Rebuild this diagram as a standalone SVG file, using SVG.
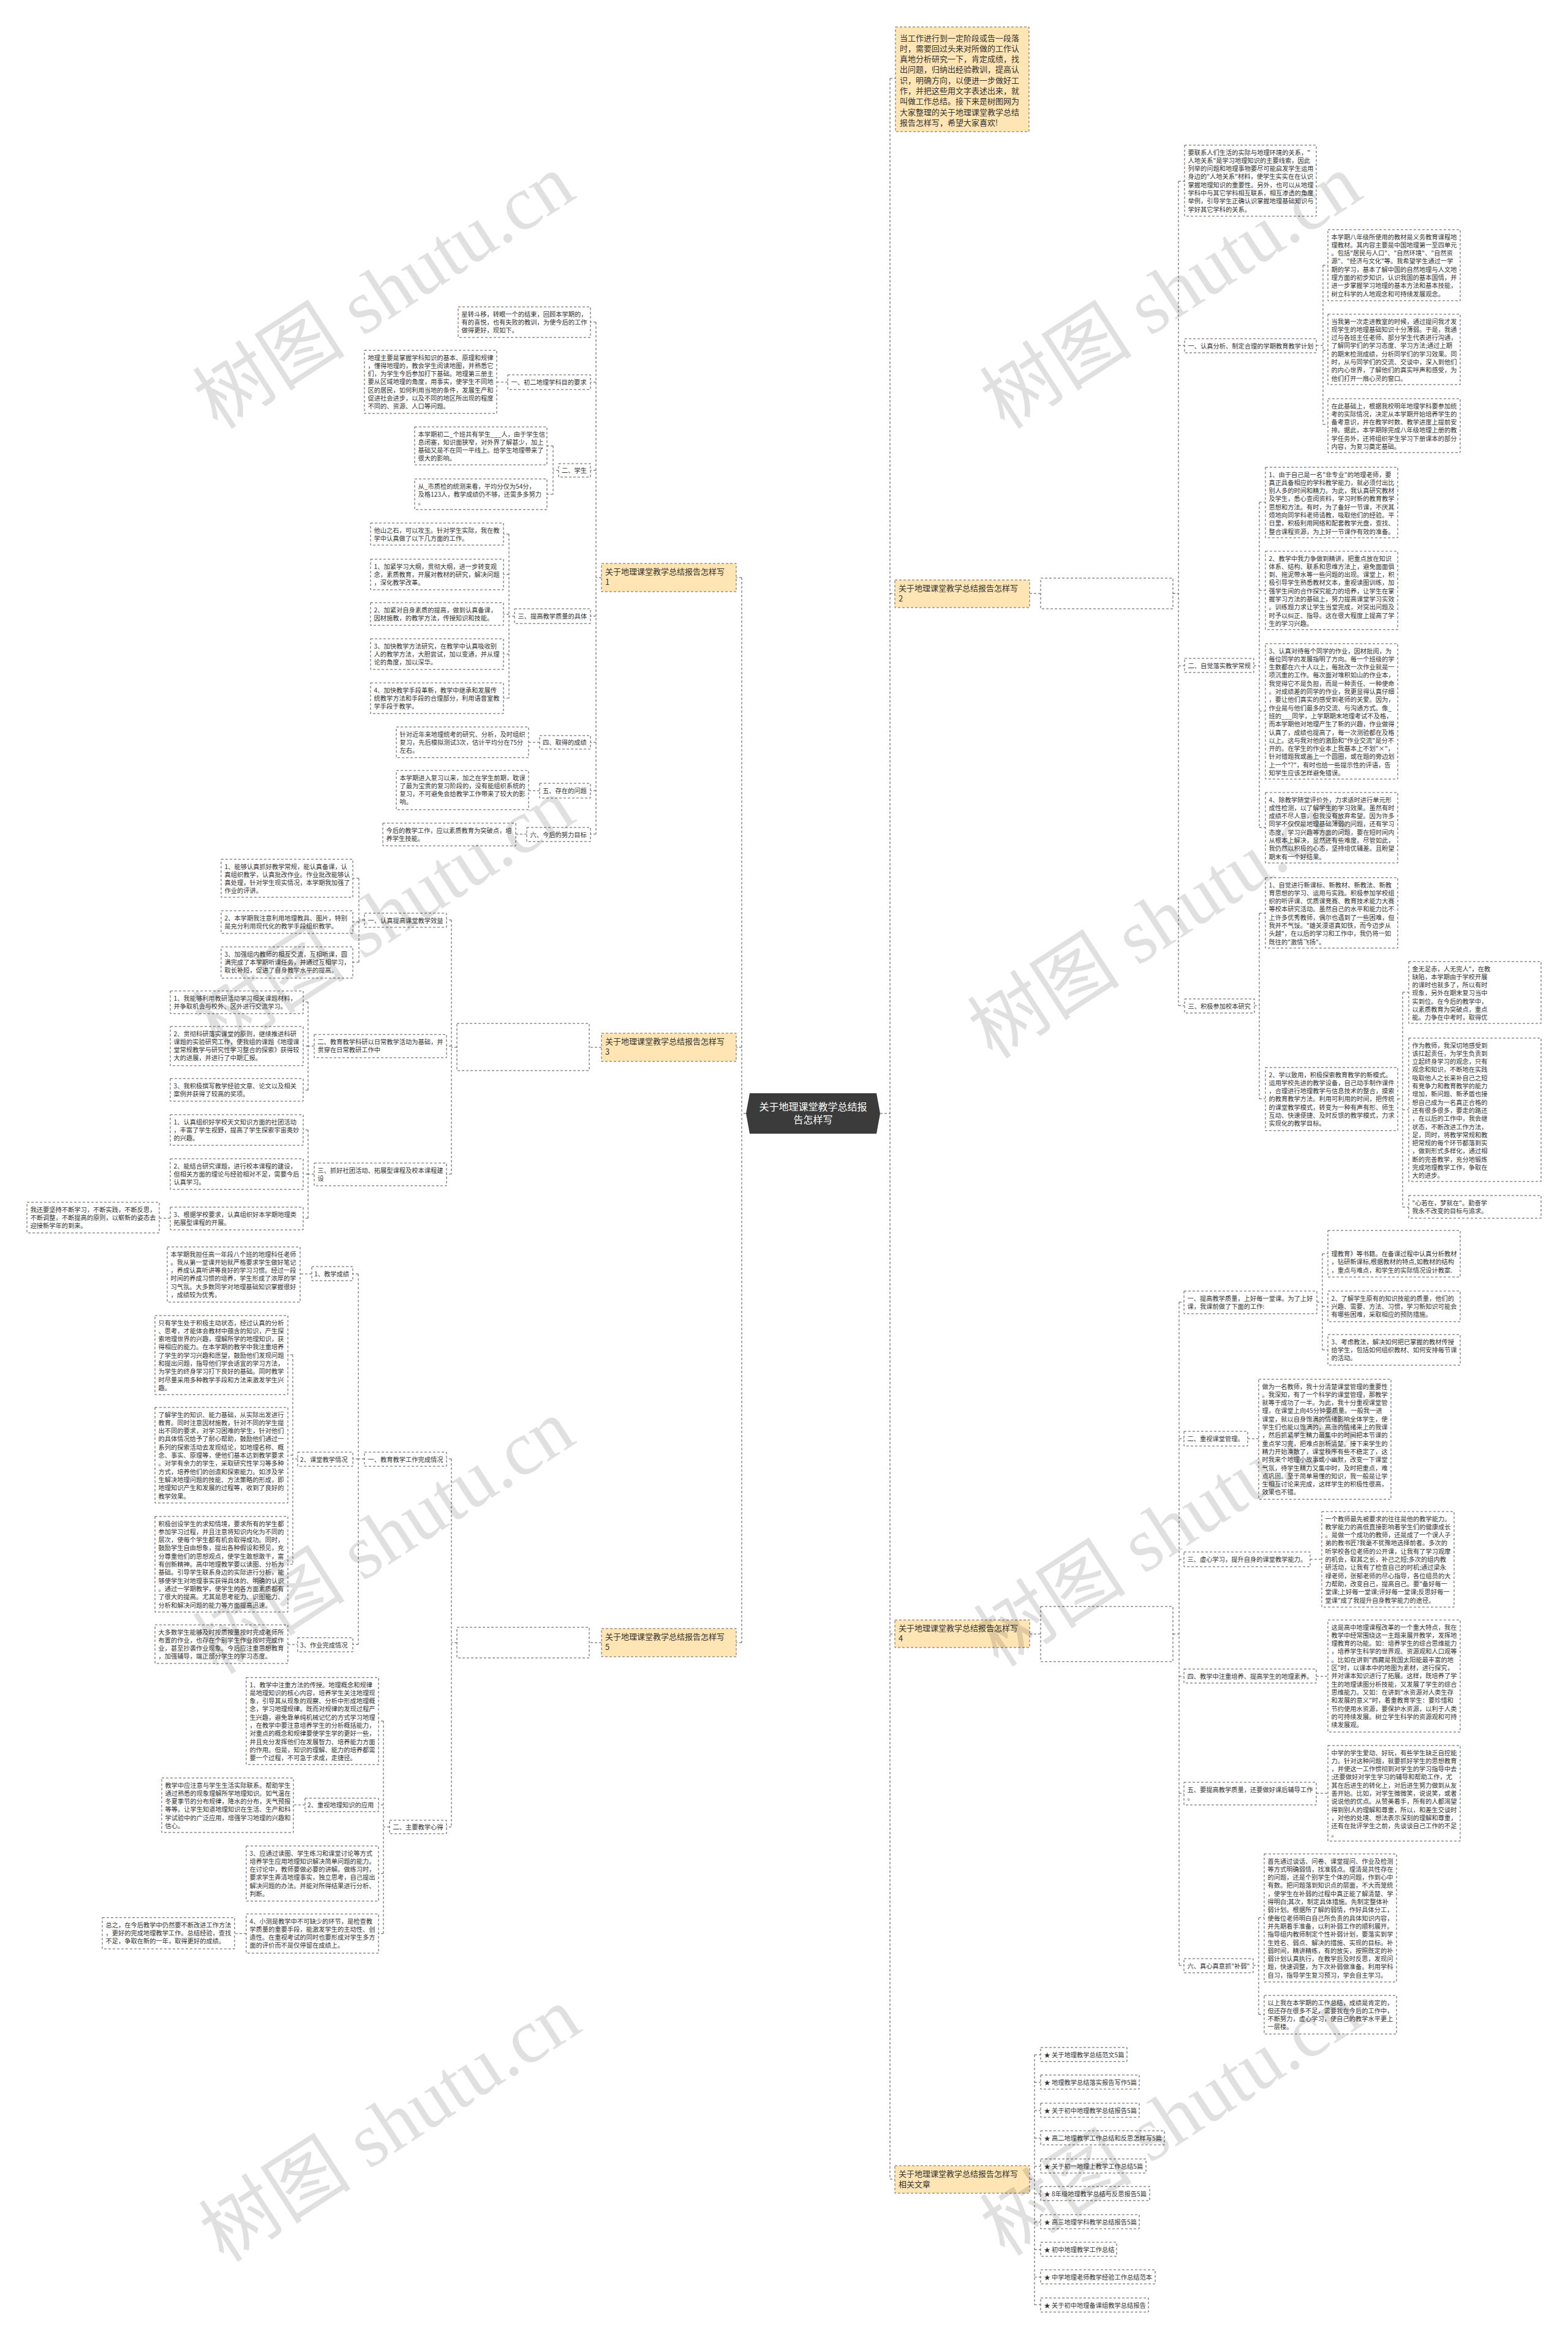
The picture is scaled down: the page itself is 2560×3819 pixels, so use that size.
<svg xmlns="http://www.w3.org/2000/svg" width="2560" height="3819" viewBox="0 0 2560 3819">
<style>
.b{fill:#fff;stroke:#555;stroke-width:1;stroke-dasharray:4 3}
.o{fill:#FFE5B4;stroke:#666;stroke-width:1;stroke-dasharray:4 3}
.c{fill:none;stroke:#555;stroke-width:1;stroke-dasharray:4 3}
.t{font-family:"Noto Sans CJK SC","Noto Sans",sans-serif;font-size:10.25px;fill:#333}
.tl{font-family:"Noto Sans CJK SC","Noto Sans",sans-serif;font-size:13px;fill:#333}
.tc{font-family:"Noto Sans CJK SC","Noto Sans",sans-serif;font-size:16px;fill:#fff}
.wm{font-family:"Liberation Serif","Noto Sans CJK SC",serif;font-size:125px;fill:#000;fill-opacity:.12}
</style>
<rect width="2560" height="3819" fill="#fff"/>
<g id="connectors">
<path class="c" d="M1453 128V3558M1437 1818H1453M1453 128H1462"/>
<path class="c" d="M1453 969H1461M1681 969H1699M1915 969H1924M1924 296V1642M1924 296H1934M1924 564H1934M1924 1087H1934M1924 1642H1934"/>
<path class="c" d="M2149 564H2160M2160 433V693M2160 433H2168M2160 572H2168M2160 693H2168"/>
<path class="c" d="M2047 1087H2056M2056 820V1351M2056 820H2066M2056 964H2066M2056 1161H2066M2056 1351H2066"/>
<path class="c" d="M2048 1642H2056M2056 1491V1794M2056 1491H2066M2056 1794H2066M2282 1794H2290M2290 1620V1971M2290 1620H2300M2290 1812H2300M2290 1971H2300"/>
<path class="c" d="M1453 2668H1461M1681 2668H1699M1915 2668H1925M1925 2126V3209M1925 2126H1933M1925 2349H1933M1925 2546H1933M1925 2737H1933M1925 2928H1933M1925 3209H1933"/>
<path class="c" d="M2150 2126H2159M2159 2047V2204M2159 2047H2168M2159 2133H2168M2159 2204H2168M2037 2349H2055M2139 2546H2158M2149 2737H2168M2149 2928H2168M2046 3209H2055M2055 3131V3289M2055 3131H2064M2055 3289H2064"/>
<path class="c" d="M1453 3558H1461M1681 3558H1689M1689 3355V3763M1689 3355H1699M1689 3400H1699M1689 3446H1699M1689 3491H1699M1689 3537H1699M1689 3582H1699M1689 3628H1699M1689 3673H1699M1689 3718H1699M1689 3763H1699"/>
<path class="c" d="M1211 943V2682M1218 1818H1211M1211 943H1202M982 943H973M973 526V1362M973 526H964M973 624H964M973 768H964M973 1006H964M973 1212H964M973 1291H964M973 1362H964"/>
<path class="c" d="M829 624H811M912 768H903M903 728V807M903 728H893M903 807H893M840 1006H831M831 872V1140M831 872H822M831 938H822M831 1003H822M831 1068H822M831 1140H822M881 1212H863M881 1291H863M860 1362H842"/>
<path class="c" d="M1211 1710H1202M982 1710H962M746 1710H737M737 1502V1917M737 1502H729M737 1708H729M737 1917H729M595 1502H586M586 1434V1571M586 1434H576M586 1505H576M586 1571H576"/>
<path class="c" d="M513 1708H503M503 1636V1780M503 1636H495M503 1708H495M503 1780H495M513 1917H503M503 1845V1989M503 1845H495M503 1917H495M503 1989H495M278 1989H260"/>
<path class="c" d="M1211 2682H1202M982 2682H962M746 2682H737M737 2382V2983M737 2382H729M737 2983H729M595 2382H585M585 2080V2685M585 2080H576M585 2382H576M585 2685H576"/>
<path class="c" d="M509 2080H490M486 2382H478M478 2212V2554M478 2212H470M478 2376H470M478 2554H470M488 2685H470M636 2983H626M626 2810V3157M626 2810H618M626 2947H618M626 3059H618M626 3157H618M498 2947H479M402 3157H383"/>
</g>
<g id="central"><path d="M1224 1785H1431L1437 1818L1431 1851H1224L1218 1818Z" fill="#3b3b3b"/><text class="tc" x="1327.5" y="1813" text-anchor="middle"><tspan x="1327.5" dy="0">关于地理课堂教学总结报</tspan><tspan x="1327.5" dy="21">告怎样写</tspan></text></g>
<g id="intro"><rect class="o" x="1462" y="44" width="218" height="171"/><text class="tl" x="1469" y="66.5"><tspan x="1469" dy="0">当工作进行到一定阶段或告一段落</tspan><tspan x="1469" dy="17.3">时，需要回过头来对所做的工作认</tspan><tspan x="1469" dy="17.3">真地分析研究一下，肯定成绩，找</tspan><tspan x="1469" dy="17.3">出问题，归纳出经验教训，提高认</tspan><tspan x="1469" dy="17.3">识，明确方向，以便进一步做好工</tspan><tspan x="1469" dy="17.3">作，并把这些用文字表述出来，就</tspan><tspan x="1469" dy="17.3">叫做工作总结。接下来是树图网为</tspan><tspan x="1469" dy="17.3">大家整理的关于地理课堂教学总结</tspan><tspan x="1469" dy="17.3">报告怎样写，希望大家喜欢!</tspan></text></g>
<g id="b2"><rect class="o" x="1461" y="947" width="220" height="45"/><text class="tl" x="1467" y="965"><tspan x="1467" dy="0">关于地理课堂教学总结报告怎样写</tspan><tspan x="1467" dy="17">2</tspan></text></g>
<g id="b2-desc"><rect class="b" x="1699" y="944" width="216" height="50"/></g>
<g id="r2-a"><rect class="b" x="1934" y="237" width="215" height="116"/><text class="t" x="1939.5" y="252.5"><tspan x="1939.5" dy="0">要联系人们生活的实际与地理环境的关系，"</tspan><tspan x="1939.5" dy="13.3">人地关系"是学习地理知识的主要线索，因此</tspan><tspan x="1939.5" dy="13.3">列举的问题和地理事物要尽可能启发学生运用</tspan><tspan x="1939.5" dy="13.3">身边的"人地关系"材料，使学生实实在在认识</tspan><tspan x="1939.5" dy="13.3">掌握地理知识的重要性。另外，也可以从地理</tspan><tspan x="1939.5" dy="13.3">学科中与其它学科相互联系，相互渗透的角度</tspan><tspan x="1939.5" dy="13.3">举例，引导学生正确认识掌握地理基础知识与</tspan><tspan x="1939.5" dy="13.3">学好其它学科的关系。</tspan></text></g>
<g id="r2-1"><rect class="b" x="1934" y="553" width="215" height="23"/><text class="t" x="1939.5" y="568.5">一、认真分析、制定合理的学期教育教学计划</text></g>
<g id="r2-1a"><rect class="b" x="2168" y="375" width="216" height="116"/><text class="t" x="2173.5" y="390.5"><tspan x="2173.5" dy="0">本学期八年级所使用的教材是义务教育课程地</tspan><tspan x="2173.5" dy="13.3">理教材。其内容主要是中国地理第一至四单元</tspan><tspan x="2173.5" dy="13.3">。包括"居民与人口"、"自然环境"、"自然资</tspan><tspan x="2173.5" dy="13.3">源"、"经济与文化"等。我希望学生通过一学</tspan><tspan x="2173.5" dy="13.3">期的学习，基本了解中国的自然地理与人文地</tspan><tspan x="2173.5" dy="13.3">理方面的初步知识，认识我国的基本国情，并</tspan><tspan x="2173.5" dy="13.3">进一步掌握学习地理的基本方法和基本技能，</tspan><tspan x="2173.5" dy="13.3">树立科学的人地观念和可持续发展观念。</tspan></text></g>
<g id="r2-1b"><rect class="b" x="2168" y="513" width="216" height="115"/><text class="t" x="2173.5" y="528.5"><tspan x="2173.5" dy="0">当我第一次走进教室的时候，通过提问我才发</tspan><tspan x="2173.5" dy="13.3">现学生的地理基础知识十分薄弱。于是，我通</tspan><tspan x="2173.5" dy="13.3">过与各班主任老师、部分学生代表进行沟通，</tspan><tspan x="2173.5" dy="13.3">了解同学们的学习态度、学习方法;通过上期</tspan><tspan x="2173.5" dy="13.3">的期末检测成绩，分析同学们的学习效果。同</tspan><tspan x="2173.5" dy="13.3">时，从与同学们的交流、交谈中，深入到他们</tspan><tspan x="2173.5" dy="13.3">的内心世界，了解他们的真实呼声和感受，为</tspan><tspan x="2173.5" dy="13.3">他们打开一扇心灵的窗口。</tspan></text></g>
<g id="r2-1c"><rect class="b" x="2168" y="651" width="216" height="88"/><text class="t" x="2173.5" y="666.5"><tspan x="2173.5" dy="0">在此基础上，根据我校明年地理学科要参加统</tspan><tspan x="2173.5" dy="13.3">考的实际情况，决定从本学期开始培养学生的</tspan><tspan x="2173.5" dy="13.3">备考意识，并在教学时数、教学进度上提前安</tspan><tspan x="2173.5" dy="13.3">排。据此，本学期除完成八年级地理上册的教</tspan><tspan x="2173.5" dy="13.3">学任务外，还将组织学生学习下册课本的部分</tspan><tspan x="2173.5" dy="13.3">内容，为复习奠定基础。</tspan></text></g>
<g id="r2-2"><rect class="b" x="1934" y="1075" width="113" height="23"/><text class="t" x="1939.5" y="1090.5">二、自觉落实教学常规</text></g>
<g id="r2-2a"><rect class="b" x="2066" y="763" width="216" height="115"/><text class="t" x="2071.5" y="778.5"><tspan x="2071.5" dy="0">1、由于自己是一名"非专业"的地理老师，要</tspan><tspan x="2071.5" dy="13.3">真正具备相应的学科教学能力，就必须付出比</tspan><tspan x="2071.5" dy="13.3">别人多的时间和精力。为此，我认真研究教材</tspan><tspan x="2071.5" dy="13.3">及学生，悉心查阅资料，学习时新的教育教学</tspan><tspan x="2071.5" dy="13.3">思想和方法。有时，为了备好一节课，不厌其</tspan><tspan x="2071.5" dy="13.3">烦地向同学科老师请教，吸取他们的经验。平</tspan><tspan x="2071.5" dy="13.3">日里，积极利用网络和配套教学光盘，查找、</tspan><tspan x="2071.5" dy="13.3">整合课程资源，为上好一节课作有效的准备。</tspan></text></g>
<g id="r2-2b"><rect class="b" x="2066" y="900" width="216" height="128"/><text class="t" x="2071.5" y="915.5"><tspan x="2071.5" dy="0">2、教学中我力争做到精讲，把重点放在知识</tspan><tspan x="2071.5" dy="13.3">体系、结构、联系和思维方法上，避免面面俱</tspan><tspan x="2071.5" dy="13.3">到、拖泥带水等一些问题的出现。课堂上，积</tspan><tspan x="2071.5" dy="13.3">极引导学生熟悉教材文本，重视读图训练，加</tspan><tspan x="2071.5" dy="13.3">强学生间的合作探究能力的培养，让学生在掌</tspan><tspan x="2071.5" dy="13.3">握学习方法的基础上，努力提高课堂学习实效</tspan><tspan x="2071.5" dy="13.3">。训练题力求让学生当堂完成，对突出问题及</tspan><tspan x="2071.5" dy="13.3">时予以纠正、指导。这在很大程度上提高了学</tspan><tspan x="2071.5" dy="13.3">生的学习兴趣。</tspan></text></g>
<g id="r2-2c"><rect class="b" x="2066" y="1051" width="216" height="221"/><text class="t" x="2071.5" y="1066.5"><tspan x="2071.5" dy="0">3、认真对待每个同学的作业，因材批阅，为</tspan><tspan x="2071.5" dy="13.3">每位同学的发展指明了方向。每一个班级的学</tspan><tspan x="2071.5" dy="13.3">生数都在六十人以上，每批改一次作业就是一</tspan><tspan x="2071.5" dy="13.3">项沉重的工作。每次面对堆积如山的作业本，</tspan><tspan x="2071.5" dy="13.3">我觉得它不是负担，而是一种责任、一种使命</tspan><tspan x="2071.5" dy="13.3">。对成绩差的同学的作业，我更显得认真仔细</tspan><tspan x="2071.5" dy="13.3">，要让他们真实的感受到老师的关爱。因为，</tspan><tspan x="2071.5" dy="13.3">作业是与他们最多的交流、与沟通方式。像_</tspan><tspan x="2071.5" dy="13.3">班的___同学，上学期期末地理考试不及格，</tspan><tspan x="2071.5" dy="13.3">而本学期他对地理产生了新的兴趣，作业做得</tspan><tspan x="2071.5" dy="13.3">认真了，成绩也提高了，每一次测验都在及格</tspan><tspan x="2071.5" dy="13.3">以上。这与我对他的激励和"作业交流"是分不</tspan><tspan x="2071.5" dy="13.3">开的。在学生的作业本上我基本上不划"×"，</tspan><tspan x="2071.5" dy="13.3">针对错题我或画上一个圆圈，或在题的旁边划</tspan><tspan x="2071.5" dy="13.3">上一个"?"，有时也给一些提示性的评语，告</tspan><tspan x="2071.5" dy="13.3">知学生应该怎样避免错误。</tspan></text></g>
<g id="r2-2d"><rect class="b" x="2066" y="1294" width="216" height="115"/><text class="t" x="2071.5" y="1309.5"><tspan x="2071.5" dy="0">4、除教学随堂评价外，力求适时进行单元形</tspan><tspan x="2071.5" dy="13.3">成性检测，以了解学生的学习效果。虽然有时</tspan><tspan x="2071.5" dy="13.3">成绩不尽人意，但我没有放弃希望。因为许多</tspan><tspan x="2071.5" dy="13.3">同学不仅仅是地理基础薄弱的问题，还有学习</tspan><tspan x="2071.5" dy="13.3">态度、学习兴趣等方面的问题，要在短时间内</tspan><tspan x="2071.5" dy="13.3">从根本上解决，显然还有些难度。尽管如此，</tspan><tspan x="2071.5" dy="13.3">我仍然以积极的心态，坚持培优辅差。且盼望</tspan><tspan x="2071.5" dy="13.3">期末有一个好结果。</tspan></text></g>
<g id="r2-3"><rect class="b" x="1934" y="1631" width="114" height="23"/><text class="t" x="1939.5" y="1646.5">三、积极参加校本研究</text></g>
<g id="r2-3a"><rect class="b" x="2066" y="1433" width="216" height="115"/><text class="t" x="2071.5" y="1448.5"><tspan x="2071.5" dy="0">1、自觉进行新课标、新教材、新教法、新教</tspan><tspan x="2071.5" dy="13.3">育思想的学习、运用与实践。积极参加学校组</tspan><tspan x="2071.5" dy="13.3">织的听评课、优质课竞赛、教育技术能力大赛</tspan><tspan x="2071.5" dy="13.3">等校本研究活动。虽然自己的水平和能力比不</tspan><tspan x="2071.5" dy="13.3">上许多优秀教师，偶尔也遇到了一些困难，但</tspan><tspan x="2071.5" dy="13.3">我并不气馁。"雄关漫道真如铁，而今迈步从</tspan><tspan x="2071.5" dy="13.3">头越"，在以后的学习和工作中，我仍将一如</tspan><tspan x="2071.5" dy="13.3">既往的"激情飞扬"。</tspan></text></g>
<g id="r2-3b"><rect class="b" x="2066" y="1743" width="216" height="103"/><text class="t" x="2071.5" y="1758.5"><tspan x="2071.5" dy="0">2、学以致用，积极探索教育教学的新模式。</tspan><tspan x="2071.5" dy="13.3">运用学校先进的教学设备，自己动手制作课件</tspan><tspan x="2071.5" dy="13.3">，合理进行地理教学与信息技术的整合，摸索</tspan><tspan x="2071.5" dy="13.3">的教育教学方法。利用可利用的时间，把传统</tspan><tspan x="2071.5" dy="13.3">的课堂教学模式，转变为一种有声有形、师生</tspan><tspan x="2071.5" dy="13.3">互动、快速便捷、及时反馈的教学模式，力求</tspan><tspan x="2071.5" dy="13.3">实现化的教学目标。</tspan></text></g>
<g id="r2-3b1"><rect class="b" x="2300" y="1570" width="216" height="101"/><text class="t" x="2305.5" y="1585.5"><tspan x="2305.5" dy="0">金无足赤，人无完人"，在教</tspan><tspan x="2305.5" dy="13.3">缺陷，本学期由于学校开展</tspan><tspan x="2305.5" dy="13.3">的课时也就多了，所以有时</tspan><tspan x="2305.5" dy="13.3">现象，另外在期末复习当中</tspan><tspan x="2305.5" dy="13.3">实到位。在今后的教学中，</tspan><tspan x="2305.5" dy="13.3">以素质教育为突破点，重点</tspan><tspan x="2305.5" dy="13.3">能。力争在中考时，取得优</tspan></text></g>
<g id="r2-3b2"><rect class="b" x="2300" y="1695" width="216" height="234"/><text class="t" x="2305.5" y="1710.5"><tspan x="2305.5" dy="0">作为教师，我深切地感受到</tspan><tspan x="2305.5" dy="13.3">该扛起责任，为学生负责到</tspan><tspan x="2305.5" dy="13.3">立起终身学习的观念，只有</tspan><tspan x="2305.5" dy="13.3">观念和知识，不断地在实践</tspan><tspan x="2305.5" dy="13.3">吸取他人之长来补自己之短</tspan><tspan x="2305.5" dy="13.3">有竞争力和教育教学的能力</tspan><tspan x="2305.5" dy="13.3">增加，新问题、新矛盾也接</tspan><tspan x="2305.5" dy="13.3">想自己成为一名真正合格的</tspan><tspan x="2305.5" dy="13.3">还有很多很多，要走的路还</tspan><tspan x="2305.5" dy="13.3">，在以后的工作中，我会继</tspan><tspan x="2305.5" dy="13.3">状态，不断改进工作方法，</tspan><tspan x="2305.5" dy="13.3">足，同时，将教学常规和教</tspan><tspan x="2305.5" dy="13.3">把常规的每个环节都落到实</tspan><tspan x="2305.5" dy="13.3">，做到形式多样化，通过相</tspan><tspan x="2305.5" dy="13.3">断的完善教学，充分地锻炼</tspan><tspan x="2305.5" dy="13.3">完成地理教学工作，争取在</tspan><tspan x="2305.5" dy="13.3">大的进步。</tspan></text></g>
<g id="r2-3b3"><rect class="b" x="2300" y="1952" width="216" height="37"/><text class="t" x="2305.5" y="1967.5"><tspan x="2305.5" dy="0">"心若在，梦就在"。勤奋学</tspan><tspan x="2305.5" dy="13.3">我永不改变的目标与追求。</tspan></text></g>
<g id="b4"><rect class="o" x="1461" y="2645" width="220" height="45"/><text class="tl" x="1467" y="2663"><tspan x="1467" dy="0">关于地理课堂教学总结报告怎样写</tspan><tspan x="1467" dy="17">4</tspan></text></g>
<g id="b4-desc"><rect class="b" x="1699" y="2623" width="216" height="90"/></g>
<g id="r4-1"><rect class="b" x="1933" y="2108" width="217" height="37"/><text class="t" x="1938.5" y="2123.5"><tspan x="1938.5" dy="0">一、提高教学质量，上好每一堂课。为了上好</tspan><tspan x="1938.5" dy="13.3">课，我课前做了下面的工作:</tspan></text></g>
<g id="r4-1a"><rect class="b" x="2168" y="2009" width="216" height="76"/><text class="t" x="2173.5" y="2051.1"><tspan x="2173.5" dy="0">理教育》等书籍。在备课过程中认真分析教材</tspan><tspan x="2173.5" dy="13.3">，钻研新课标,根据教材的特点,如教材的结构</tspan><tspan x="2173.5" dy="13.3">，重点与难点，和学生的实际情况设计教案.</tspan></text></g>
<g id="r4-1b"><rect class="b" x="2168" y="2108" width="216" height="50"/><text class="t" x="2173.5" y="2123.5"><tspan x="2173.5" dy="0">2、了解学生原有的知识技能的质量，他们的</tspan><tspan x="2173.5" dy="13.3">兴趣、需要、方法、习惯，学习新知识可能会</tspan><tspan x="2173.5" dy="13.3">有哪些困难，采取相应的预防措施。</tspan></text></g>
<g id="r4-1c"><rect class="b" x="2168" y="2179" width="216" height="50"/><text class="t" x="2173.5" y="2194.5"><tspan x="2173.5" dy="0">3、考虑教法，解决如何把已掌握的教材传授</tspan><tspan x="2173.5" dy="13.3">给学生，包括如何组织教材、如何安排每节课</tspan><tspan x="2173.5" dy="13.3">的活动。</tspan></text></g>
<g id="r4-2"><rect class="b" x="1933" y="2337" width="104" height="24"/><text class="t" x="1938.5" y="2353">二、重视课堂管理。</text></g>
<g id="r4-2a"><rect class="b" x="2055" y="2252" width="216" height="196"/><text class="t" x="2060.5" y="2267.5"><tspan x="2060.5" dy="0">做为一名教师，我十分清楚课堂管理的重要性</tspan><tspan x="2060.5" dy="13.3">。我深知，有了一个科学的课堂管理，那教学</tspan><tspan x="2060.5" dy="13.3">就等于成功了一半。为此，我十分重视课堂管</tspan><tspan x="2060.5" dy="13.3">理，在课堂上向45分钟要质量。一般我一进</tspan><tspan x="2060.5" dy="13.3">课堂，就以自身饱满的情绪影响全体学生，使</tspan><tspan x="2060.5" dy="13.3">学生们也能以饱满的，高涨的情绪来上的我课</tspan><tspan x="2060.5" dy="13.3">，然后抓紧学生精力最集中的时间把本节课的</tspan><tspan x="2060.5" dy="13.3">重点学习完，把难点剖析清楚。接下来学生的</tspan><tspan x="2060.5" dy="13.3">精力开始涣散了，课堂秩序有些不稳定了，这</tspan><tspan x="2060.5" dy="13.3">时我来个地理小故事或小幽默，改变一下课堂</tspan><tspan x="2060.5" dy="13.3">气氛，待学生精力又集中时，及时把重点，难</tspan><tspan x="2060.5" dy="13.3">点巩固。至于简单易懂的知识，我一般是让学</tspan><tspan x="2060.5" dy="13.3">生相互讨论来完成，这样学生的积极性很高，</tspan><tspan x="2060.5" dy="13.3">效果也不错。</tspan></text></g>
<g id="r4-3"><rect class="b" x="1933" y="2534" width="206" height="24"/><text class="t" x="1938.5" y="2550">三、虚心学习，提升自身的课堂教学能力。</text></g>
<g id="r4-3a"><rect class="b" x="2158" y="2468" width="216" height="156"/><text class="t" x="2163.5" y="2483.5"><tspan x="2163.5" dy="0">一个教师最先被要求的往往是他的教学能力。</tspan><tspan x="2163.5" dy="13.3">教学能力的高低直接影响着学生们的健康成长</tspan><tspan x="2163.5" dy="13.3">。是做一个成功的教师，还是成了一个误人子</tspan><tspan x="2163.5" dy="13.3">弟的教书匠?我毫不犹豫地选择前者。多次的</tspan><tspan x="2163.5" dy="13.3">听学校各位老师的公开课，让我有了学习观摩</tspan><tspan x="2163.5" dy="13.3">的机会，取其之长，补己之短;多次的组内教</tspan><tspan x="2163.5" dy="13.3">研活动，让我有了检查自己的时机;通过梁永</tspan><tspan x="2163.5" dy="13.3">禄老师，张郁老师的尽心指导，各位组员的大</tspan><tspan x="2163.5" dy="13.3">力帮助，改变自己，提高自己。要"备好每一</tspan><tspan x="2163.5" dy="13.3">堂课;上好每一堂课;评好每一堂课;反思好每一</tspan><tspan x="2163.5" dy="13.3">堂课"成了我提升自身教学能力的途径。</tspan></text></g>
<g id="r4-4"><rect class="b" x="1933" y="2725" width="216" height="23"/><text class="t" x="1938.5" y="2740.5">四、教学中注重培养、提高学生的地理素养。</text></g>
<g id="r4-4a"><rect class="b" x="2168" y="2645" width="216" height="183"/><text class="t" x="2173.5" y="2660.5"><tspan x="2173.5" dy="0">这是高中地理课程改革的一个重大特点，我在</tspan><tspan x="2173.5" dy="13.3">教学中经常围绕这一主题来展开教学，发挥地</tspan><tspan x="2173.5" dy="13.3">理教育的功能。如：培养学生的综合思维能力</tspan><tspan x="2173.5" dy="13.3">，培养学生科学的世界观、资源观和人口观等</tspan><tspan x="2173.5" dy="13.3">。比如在讲到"西藏是我国太阳能最丰富的地</tspan><tspan x="2173.5" dy="13.3">区"时，以课本中的地图为素材，进行探究，</tspan><tspan x="2173.5" dy="13.3">并对课本知识进行了拓展。这样，既培养了学</tspan><tspan x="2173.5" dy="13.3">生的地理读图分析技能，又发展了学生的综合</tspan><tspan x="2173.5" dy="13.3">思维能力。又如：在讲到"水资源对人类生存</tspan><tspan x="2173.5" dy="13.3">和发展的意义"时，着重教育学生：要珍惜和</tspan><tspan x="2173.5" dy="13.3">节约使用水资源，要保护水资源，以利于人类</tspan><tspan x="2173.5" dy="13.3">的可持续发展。树立学生科学的资源观和可持</tspan><tspan x="2173.5" dy="13.3">续发展观。</tspan></text></g>
<g id="r4-5"><rect class="b" x="1933" y="2910" width="216" height="37"/><text class="t" x="1938.5" y="2925.5"><tspan x="1938.5" dy="0">五、要提高教学质量，还要做好课后辅导工作</tspan><tspan x="1938.5" dy="13.3">。</tspan></text></g>
<g id="r4-5a"><rect class="b" x="2168" y="2850" width="216" height="156"/><text class="t" x="2173.5" y="2865.5"><tspan x="2173.5" dy="0">中学的学生爱动、好玩，有些学生缺乏自控能</tspan><tspan x="2173.5" dy="13.3">力。针对这种问题，就要抓好学生的思想教育</tspan><tspan x="2173.5" dy="13.3">，并使这一工作惯彻到对学生的学习指导中去</tspan><tspan x="2173.5" dy="13.3">;还要做好对学生学习的辅导和帮助工作，尤</tspan><tspan x="2173.5" dy="13.3">其在后进生的转化上，对后进生努力做到从友</tspan><tspan x="2173.5" dy="13.3">善开始。比如，对学生微微笑，说说笑，或者</tspan><tspan x="2173.5" dy="13.3">说说他的优点。从赞美着手，所有的人都渴望</tspan><tspan x="2173.5" dy="13.3">得到别人的理解和尊重，所以，和差生交谈时</tspan><tspan x="2173.5" dy="13.3">，对他的处境、想法表示深刻的理解和尊重，</tspan><tspan x="2173.5" dy="13.3">还有在批评学生之前，先谈谈自己工作的不足</tspan><tspan x="2173.5" dy="13.3">。</tspan></text></g>
<g id="r4-6"><rect class="b" x="1933" y="3198" width="113" height="23"/><text class="t" x="1938.5" y="3213.5">六、真心真意抓"补弱"</text></g>
<g id="r4-6a"><rect class="b" x="2064" y="3027" width="216" height="209"/><text class="t" x="2069.5" y="3042.5"><tspan x="2069.5" dy="0">首先通过谈话、问卷、课堂提问、作业及检测</tspan><tspan x="2069.5" dy="13.3">等方式明确弱情，找准弱点。理清是共性存在</tspan><tspan x="2069.5" dy="13.3">的问题，还是个别学生个体的问题，作到心中</tspan><tspan x="2069.5" dy="13.3">有数。把问题落到知识点的层面，不大而笼统</tspan><tspan x="2069.5" dy="13.3">，使学生在补弱的过程中真正能了解清楚、学</tspan><tspan x="2069.5" dy="13.3">得明白;其次，制定具体措施。先制定整体补</tspan><tspan x="2069.5" dy="13.3">弱计划。根据所了解的弱情，作好具体分工，</tspan><tspan x="2069.5" dy="13.3">使每位老师明白自己所负责的具体知识内容，</tspan><tspan x="2069.5" dy="13.3">并先期着手准备，以利补弱工作的顺利展开。</tspan><tspan x="2069.5" dy="13.3">指导组内教师制定个性补弱计划，要落实到学</tspan><tspan x="2069.5" dy="13.3">生姓名、弱点、解决的措施、实现的目标。补</tspan><tspan x="2069.5" dy="13.3">弱时间，精讲精练，有的放矢，按照既定的补</tspan><tspan x="2069.5" dy="13.3">弱计划认真执行，在教学后及时反思，发现问</tspan><tspan x="2069.5" dy="13.3">题，快速调整，为下次补弱做准备。利用学科</tspan><tspan x="2069.5" dy="13.3">自习，指导学生复习预习，学会自主学习。</tspan></text></g>
<g id="r4-6b"><rect class="b" x="2064" y="3258" width="216" height="63"/><text class="t" x="2069.5" y="3273.5"><tspan x="2069.5" dy="0">以上我在本学期的工作总结，成绩是肯定的，</tspan><tspan x="2069.5" dy="13.3">但还存在很多不足，需要我在今后的工作中，</tspan><tspan x="2069.5" dy="13.3">不断努力，虚心学习，使自己的教学水平更上</tspan><tspan x="2069.5" dy="13.3">一层楼。</tspan></text></g>
<g id="rel"><rect class="o" x="1461" y="3536" width="220" height="45"/><text class="tl" x="1467" y="3554"><tspan x="1467" dy="0">关于地理课堂教学总结报告怎样写</tspan><tspan x="1467" dy="17">相关文章</tspan></text></g>
<g id="rel-1"><rect class="b" x="1699" y="3343" width="141" height="23"/><text class="t" x="1704.5" y="3358.5">★ 关于地理教学总结范文5篇</text></g>
<g id="rel-2"><rect class="b" x="1699" y="3388" width="161" height="23"/><text class="t" x="1704.5" y="3403.5">★ 地理教学总结落实报告写作5篇</text></g>
<g id="rel-3"><rect class="b" x="1699" y="3434" width="161" height="23"/><text class="t" x="1704.5" y="3449.5">★ 关于初中地理教学总结报告5篇</text></g>
<g id="rel-4"><rect class="b" x="1699" y="3479" width="202" height="23"/><text class="t" x="1704.5" y="3494.5">★ 高二地理教学工作总结和反思怎样写5篇</text></g>
<g id="rel-5"><rect class="b" x="1699" y="3525" width="172" height="23"/><text class="t" x="1704.5" y="3540.5">★ 关于初一地理上教学工作总结5篇</text></g>
<g id="rel-6"><rect class="b" x="1699" y="3570" width="178" height="23"/><text class="t" x="1704.5" y="3585.5">★ 8年级地理教学总结与反思报告5篇</text></g>
<g id="rel-7"><rect class="b" x="1699" y="3616" width="161" height="23"/><text class="t" x="1704.5" y="3631.5">★ 高三地理学科教学总结报告5篇</text></g>
<g id="rel-8"><rect class="b" x="1699" y="3661" width="124" height="23"/><text class="t" x="1704.5" y="3676.5">★ 初中地理教学工作总结</text></g>
<g id="rel-9"><rect class="b" x="1699" y="3706" width="187" height="23"/><text class="t" x="1704.5" y="3721.5">★ 中学地理老师教学经验工作总结范本</text></g>
<g id="rel-10"><rect class="b" x="1699" y="3752" width="176" height="23"/><text class="t" x="1704.5" y="3767.5">★ 关于初中地理备课组教学总结报告</text></g>
<g id="b1"><rect class="o" x="982" y="920" width="220" height="46"/><text class="tl" x="988" y="938"><tspan x="988" dy="0">关于地理课堂教学总结报告怎样写</tspan><tspan x="988" dy="17">1</tspan></text></g>
<g id="l1-0"><rect class="b" x="748" y="501" width="216" height="50"/><text class="t" x="753.5" y="516.5"><tspan x="753.5" dy="0">星转斗移，转眼一个的结束，回顾本学期的，</tspan><tspan x="753.5" dy="13.3">有的喜悦，也有失败的教训，为使今后的工作</tspan><tspan x="753.5" dy="13.3">做得更好，现如下。</tspan></text></g>
<g id="l1-1"><rect class="b" x="829" y="612" width="135" height="24"/><text class="t" x="834.5" y="628">一、初二地理学科目的要求</text></g>
<g id="l1-1a"><rect class="b" x="595" y="572" width="216" height="103"/><text class="t" x="600.5" y="587.5"><tspan x="600.5" dy="0">地理主要是掌握学科知识的基本、原理和规律</tspan><tspan x="600.5" dy="13.3">，懂得地理的，教会学生阅读地图，并熟悉它</tspan><tspan x="600.5" dy="13.3">们，为学生今后参加打下基础。地理第三册主</tspan><tspan x="600.5" dy="13.3">要从区域地理的角度，用事实，使学生不同地</tspan><tspan x="600.5" dy="13.3">区的居民，如何利用当地的条件，发展生产和</tspan><tspan x="600.5" dy="13.3">促进社会进步，以及不同的地区所出现的程度</tspan><tspan x="600.5" dy="13.3">不同的、资源、人口等问题。</tspan></text></g>
<g id="l1-2"><rect class="b" x="912" y="757" width="52" height="22"/><text class="t" x="917" y="772">二、学生</text></g>
<g id="l1-2a"><rect class="b" x="677" y="697" width="216" height="62"/><text class="t" x="682.5" y="712.5"><tspan x="682.5" dy="0">本学期初二_个班共有学生___人，由于学生信</tspan><tspan x="682.5" dy="13.3">息闭塞，知识面狭窄，对外界了解甚少，加上</tspan><tspan x="682.5" dy="13.3">基础又是不在同一平线上。给学生地理带来了</tspan><tspan x="682.5" dy="13.3">很大的影响。</tspan></text></g>
<g id="l1-2b"><rect class="b" x="677" y="782" width="216" height="50"/><text class="t" x="682.5" y="797.5"><tspan x="682.5" dy="0">从_市质检的统测来看，平均分仅为54分，</tspan><tspan x="682.5" dy="13.3">及格123人，教学成绩仍不够，还需多多努力</tspan><tspan x="682.5" dy="13.3">。</tspan></text></g>
<g id="l1-3"><rect class="b" x="840" y="994" width="124" height="24"/><text class="t" x="845.5" y="1010">三、提高教学质量的具体</text></g>
<g id="l1-3a"><rect class="b" x="605" y="854" width="217" height="36"/><text class="t" x="610.5" y="869.5"><tspan x="610.5" dy="0">他山之石，可以攻玉。针对学生实际，我在教</tspan><tspan x="610.5" dy="13.3">学中认真做了以下几方面的工作。</tspan></text></g>
<g id="l1-3b"><rect class="b" x="605" y="913" width="217" height="50"/><text class="t" x="610.5" y="928.5"><tspan x="610.5" dy="0">1、加紧学习大纲，贯彻大纲，进一步转变观</tspan><tspan x="610.5" dy="13.3">念，素质教育，开展对教材的研究，解决问题</tspan><tspan x="610.5" dy="13.3">，深化教学改革。</tspan></text></g>
<g id="l1-3c"><rect class="b" x="605" y="984" width="217" height="37"/><text class="t" x="610.5" y="999.5"><tspan x="610.5" dy="0">2、加紧对自身素质的提高，做到认真备课，</tspan><tspan x="610.5" dy="13.3">因材施教，的教学方法，传授知识和技能。</tspan></text></g>
<g id="l1-3d"><rect class="b" x="605" y="1043" width="217" height="50"/><text class="t" x="610.5" y="1058.5"><tspan x="610.5" dy="0">3、加快教学方法研究，在教学中认真吸收别</tspan><tspan x="610.5" dy="13.3">人的教学方法，大胆尝试，加以变通，并从理</tspan><tspan x="610.5" dy="13.3">论的角度，加以深华。</tspan></text></g>
<g id="l1-3e"><rect class="b" x="605" y="1115" width="217" height="50"/><text class="t" x="610.5" y="1130.5"><tspan x="610.5" dy="0">4、加快教学手段革新，教学中继承和发展传</tspan><tspan x="610.5" dy="13.3">统教学方法和手段的合理部分，利用语音室教</tspan><tspan x="610.5" dy="13.3">学手段于教学。</tspan></text></g>
<g id="l1-4"><rect class="b" x="881" y="1201" width="83" height="22"/><text class="t" x="886" y="1216">四、取得的成绩</text></g>
<g id="l1-4a"><rect class="b" x="647" y="1187" width="216" height="50"/><text class="t" x="652.5" y="1202.5"><tspan x="652.5" dy="0">针对近年来地理统考的研究、分析，及时组织</tspan><tspan x="652.5" dy="13.3">复习，先后模拟测试3次，估计平均分在75分</tspan><tspan x="652.5" dy="13.3">左右。</tspan></text></g>
<g id="l1-5"><rect class="b" x="881" y="1279" width="83" height="24"/><text class="t" x="886" y="1295">五、存在的问题</text></g>
<g id="l1-5a"><rect class="b" x="647" y="1258" width="216" height="64"/><text class="t" x="652.5" y="1273.5"><tspan x="652.5" dy="0">本学期进入复习以来，加之在学生前期，耽误</tspan><tspan x="652.5" dy="13.3">了最为宝贵的复习阶段的，没有能组织系统的</tspan><tspan x="652.5" dy="13.3">复习，不可避免会给教学工作带来了较大的影</tspan><tspan x="652.5" dy="13.3">响。</tspan></text></g>
<g id="l1-6"><rect class="b" x="860" y="1351" width="104" height="23"/><text class="t" x="865.5" y="1366.5">六、今后的努力目标</text></g>
<g id="l1-6a"><rect class="b" x="625" y="1344" width="217" height="37"/><text class="t" x="630.5" y="1359.5"><tspan x="630.5" dy="0">今后的教学工作，应以素质教育为突破点，培</tspan><tspan x="630.5" dy="13.3">养学生技能。</tspan></text></g>
<g id="b3"><rect class="o" x="982" y="1687" width="220" height="46"/><text class="tl" x="988" y="1705"><tspan x="988" dy="0">关于地理课堂教学总结报告怎样写</tspan><tspan x="988" dy="17">3</tspan></text></g>
<g id="b3-desc"><rect class="b" x="746" y="1671" width="216" height="77"/></g>
<g id="l3-1"><rect class="b" x="595" y="1491" width="134" height="23"/><text class="t" x="600.5" y="1506.5">一、认真提高课堂教学效益</text></g>
<g id="l3-1a"><rect class="b" x="361" y="1403" width="215" height="62"/><text class="t" x="366.5" y="1418.5"><tspan x="366.5" dy="0">1、能够认真抓好教学常规，能认真备课，认</tspan><tspan x="366.5" dy="13.3">真组织教学，认真批改作业。作业批改能够认</tspan><tspan x="366.5" dy="13.3">真处理，针对学生现实情况，本学期我加强了</tspan><tspan x="366.5" dy="13.3">作业的评讲。</tspan></text></g>
<g id="l3-1b"><rect class="b" x="361" y="1487" width="215" height="37"/><text class="t" x="366.5" y="1502.5"><tspan x="366.5" dy="0">2、本学期我注意利用地理教具、图片，特别</tspan><tspan x="366.5" dy="13.3">是充分利用现代化的教学手段组织教学。</tspan></text></g>
<g id="l3-1c"><rect class="b" x="361" y="1546" width="215" height="51"/><text class="t" x="366.5" y="1561.5"><tspan x="366.5" dy="0">3、加强组内教师的相互交流，互相听课，圆</tspan><tspan x="366.5" dy="13.3">满完成了本学期听课任务，并通过互相学习，</tspan><tspan x="366.5" dy="13.3">取长补短，促进了自身教学水平的提高。</tspan></text></g>
<g id="l3-2"><rect class="b" x="513" y="1689" width="216" height="38"/><text class="t" x="518.5" y="1704.5"><tspan x="518.5" dy="0">二、教育教学科研以日常教学活动为基础，并</tspan><tspan x="518.5" dy="13.3">贯穿在日常教研工作中</tspan></text></g>
<g id="l3-2a"><rect class="b" x="278" y="1618" width="217" height="37"/><text class="t" x="283.5" y="1633.5"><tspan x="283.5" dy="0">1、我能够利用教研活动学习相关课题材料，</tspan><tspan x="283.5" dy="13.3">并争取机会与校外、区外进行交流学习。</tspan></text></g>
<g id="l3-2b"><rect class="b" x="278" y="1676" width="217" height="64"/><text class="t" x="283.5" y="1691.5"><tspan x="283.5" dy="0">2、贯彻科研落实课堂的原则，继续推进科研</tspan><tspan x="283.5" dy="13.3">课题的实验研究工作，使我组的课题《地理课</tspan><tspan x="283.5" dy="13.3">堂常规教学与研究性学习整合的探索》获得较</tspan><tspan x="283.5" dy="13.3">大的进展，并进行了中期汇报。</tspan></text></g>
<g id="l3-2c"><rect class="b" x="278" y="1761" width="217" height="37"/><text class="t" x="283.5" y="1776.5"><tspan x="283.5" dy="0">3、我积极撰写教学经验文章、论文以及相关</tspan><tspan x="283.5" dy="13.3">案例并获得了较高的奖项。</tspan></text></g>
<g id="l3-3"><rect class="b" x="513" y="1899" width="216" height="37"/><text class="t" x="518.5" y="1914.5"><tspan x="518.5" dy="0">三、抓好社团活动、拓展型课程及校本课程建</tspan><tspan x="518.5" dy="13.3">设</tspan></text></g>
<g id="l3-3a"><rect class="b" x="278" y="1820" width="217" height="50"/><text class="t" x="283.5" y="1835.5"><tspan x="283.5" dy="0">1、认真组织好学校天文知识方面的社团活动</tspan><tspan x="283.5" dy="13.3">，丰富了学生视野，提高了学生探索宇宙奥妙</tspan><tspan x="283.5" dy="13.3">的兴趣。</tspan></text></g>
<g id="l3-3b"><rect class="b" x="278" y="1892" width="217" height="50"/><text class="t" x="283.5" y="1907.5"><tspan x="283.5" dy="0">2、能结合研究课题，进行校本课程的建设，</tspan><tspan x="283.5" dy="13.3">但相关方面的理论与经验相对不足，需要今后</tspan><tspan x="283.5" dy="13.3">认真学习。</tspan></text></g>
<g id="l3-3c"><rect class="b" x="278" y="1971" width="217" height="37"/><text class="t" x="283.5" y="1986.5"><tspan x="283.5" dy="0">3、根据学校要求，认真组织好本学期地理类</tspan><tspan x="283.5" dy="13.3">拓展型课程的开展。</tspan></text></g>
<g id="l3-3d"><rect class="b" x="44" y="1963" width="216" height="50"/><text class="t" x="49.5" y="1978.5"><tspan x="49.5" dy="0">我还要坚持不断学习，不断实践，不断反思，</tspan><tspan x="49.5" dy="13.3">不断调整，不断提高的原则，以崭新的姿态去</tspan><tspan x="49.5" dy="13.3">迎接新学年的到来。</tspan></text></g>
<g id="b5"><rect class="o" x="982" y="2659" width="220" height="46"/><text class="tl" x="988" y="2677"><tspan x="988" dy="0">关于地理课堂教学总结报告怎样写</tspan><tspan x="988" dy="17">5</tspan></text></g>
<g id="b5-desc"><rect class="b" x="746" y="2657" width="216" height="50"/></g>
<g id="l5-1"><rect class="b" x="595" y="2371" width="134" height="23"/><text class="t" x="600.5" y="2386.5">一、教育教学工作完成情况</text></g>
<g id="l5-11"><rect class="b" x="509" y="2068" width="67" height="23"/><text class="t" x="513" y="2083.5">1、教学成绩</text></g>
<g id="l5-11a"><rect class="b" x="273" y="2036" width="217" height="90"/><text class="t" x="278.5" y="2051.5"><tspan x="278.5" dy="0">本学期我担任高一年段八个班的地理科任老师</tspan><tspan x="278.5" dy="13.3">。我从第一堂课开始就严格要求学生做好笔记</tspan><tspan x="278.5" dy="13.3">，养成认真听讲等良好的学习习惯。经过一段</tspan><tspan x="278.5" dy="13.3">时间的养成习惯的培养，学生形成了浓厚的学</tspan><tspan x="278.5" dy="13.3">习气氛。大多数同学对地理基础知识掌握很好</tspan><tspan x="278.5" dy="13.3">，成绩较为优秀。</tspan></text></g>
<g id="l5-12"><rect class="b" x="486" y="2371" width="90" height="23"/><text class="t" x="490" y="2386.5">2、课堂教学情况</text></g>
<g id="l5-12a"><rect class="b" x="253" y="2148" width="217" height="129"/><text class="t" x="258.5" y="2163.5"><tspan x="258.5" dy="0">只有学生处于积极主动状态，经过认真的分析</tspan><tspan x="258.5" dy="13.3">、思考，才能体会教材中蕴含的知识，产生探</tspan><tspan x="258.5" dy="13.3">索地理世界的兴趣，理解所学的地理知识，获</tspan><tspan x="258.5" dy="13.3">得相应的能力。在本学期的教学中我注重培养</tspan><tspan x="258.5" dy="13.3">了学生的学习兴趣和愿望，鼓励他们发现问题</tspan><tspan x="258.5" dy="13.3">和提出问题，指导他们学会适宜的学习方法，</tspan><tspan x="258.5" dy="13.3">为学生的终身学习打下良好的基础。同时教学</tspan><tspan x="258.5" dy="13.3">时尽量采用多种教学手段和方法来激发学生兴</tspan><tspan x="258.5" dy="13.3">趣。</tspan></text></g>
<g id="l5-12b"><rect class="b" x="253" y="2298" width="217" height="156"/><text class="t" x="258.5" y="2313.5"><tspan x="258.5" dy="0">了解学生的知识、能力基础，从实际出发进行</tspan><tspan x="258.5" dy="13.3">教育。同时注意因材施教，针对不同的学生提</tspan><tspan x="258.5" dy="13.3">出不同的要求，对学习困难的学生，针对他们</tspan><tspan x="258.5" dy="13.3">的具体情况给予了耐心帮助，鼓励他们通过一</tspan><tspan x="258.5" dy="13.3">系列的探索活动去发现结论，如地理名称、概</tspan><tspan x="258.5" dy="13.3">念、事实、原理等，使他们基本达到教学要求</tspan><tspan x="258.5" dy="13.3">。对学有余力的学生，采取研究性学习等多种</tspan><tspan x="258.5" dy="13.3">方式，培养他们的创造和探索能力。如涉及学</tspan><tspan x="258.5" dy="13.3">生解决地理问题的技能、方法策略的形成，即</tspan><tspan x="258.5" dy="13.3">地理知识产生和发展的过程等，收到了良好的</tspan><tspan x="258.5" dy="13.3">教学效果。</tspan></text></g>
<g id="l5-12c"><rect class="b" x="253" y="2476" width="217" height="156"/><text class="t" x="258.5" y="2491.5"><tspan x="258.5" dy="0">积极创设学生的求知情境，要求所有的学生都</tspan><tspan x="258.5" dy="13.3">参加学习过程，并且注意将知识内化为不同的</tspan><tspan x="258.5" dy="13.3">层次，使每个学生都有机会取得成功。同时，</tspan><tspan x="258.5" dy="13.3">鼓励学生自由想象，提出各种假设和预见，充</tspan><tspan x="258.5" dy="13.3">分尊重他们的思想观点，使学生敢想敢干，富</tspan><tspan x="258.5" dy="13.3">有创新精神。高中地理教学要以读图、分析为</tspan><tspan x="258.5" dy="13.3">基础。引导学生联系身边的实际进行分析，能</tspan><tspan x="258.5" dy="13.3">够使学生对地理事实获得具体的、明确的认识</tspan><tspan x="258.5" dy="13.3">。通过一学期教学，使学生的各方面素质都有</tspan><tspan x="258.5" dy="13.3">了很大的提高。尤其是思考能力、识图能力、</tspan><tspan x="258.5" dy="13.3">分析和解决问题的能力等方面提高迅速。</tspan></text></g>
<g id="l5-13"><rect class="b" x="486" y="2674" width="90" height="23"/><text class="t" x="490" y="2689.5">3、作业完成情况</text></g>
<g id="l5-13a"><rect class="b" x="253" y="2653" width="217" height="63"/><text class="t" x="258.5" y="2668.5"><tspan x="258.5" dy="0">大多数学生能够及时按质按量按时完成老师所</tspan><tspan x="258.5" dy="13.3">布置的作业，也存在个别学生作业按时完成作</tspan><tspan x="258.5" dy="13.3">业，甚至抄袭作业现象。今后应注重思想教育</tspan><tspan x="258.5" dy="13.3">，加强辅导，端正部分学生的学习态度。</tspan></text></g>
<g id="l5-2"><rect class="b" x="636" y="2972" width="93" height="22"/><text class="t" x="641.5" y="2987">二、主要教学心得</text></g>
<g id="l5-21"><rect class="b" x="402" y="2739" width="216" height="142"/><text class="t" x="407.5" y="2754.5"><tspan x="407.5" dy="0">1、教学中注重方法的传授。地理概念和规律</tspan><tspan x="407.5" dy="13.3">是地理知识的核心内容，培养学生关注地理现</tspan><tspan x="407.5" dy="13.3">象，引导其从现象的观察、分析中形成地理概</tspan><tspan x="407.5" dy="13.3">念，学习地理规律。既而对规律的发现过程产</tspan><tspan x="407.5" dy="13.3">生兴趣，避免靠单纯机械记忆的方式学习地理</tspan><tspan x="407.5" dy="13.3">，在教学中要注意培养学生的分析概括能力，</tspan><tspan x="407.5" dy="13.3">对重点的概念和规律要使学生学的更好一些，</tspan><tspan x="407.5" dy="13.3">并且充分发挥他们在发展智力、培养能力方面</tspan><tspan x="407.5" dy="13.3">的作用。但是，知识的理解、能力的培养都需</tspan><tspan x="407.5" dy="13.3">要一个过程，不可急于求成，走捷径。</tspan></text></g>
<g id="l5-22"><rect class="b" x="498" y="2936" width="120" height="22"/><text class="t" x="502" y="2951">2、重视地理知识的应用</text></g>
<g id="l5-22a"><rect class="b" x="264" y="2903" width="215" height="89"/><text class="t" x="269.5" y="2918.5"><tspan x="269.5" dy="0">教学中应注意与学生生活实际联系。帮助学生</tspan><tspan x="269.5" dy="13.3">通过熟悉的现象理解所学地理知识。如气温在</tspan><tspan x="269.5" dy="13.3">冬夏季节的分布规律，降水的分布，天气预报</tspan><tspan x="269.5" dy="13.3">等等。让学生知道地理知识在生活、生产和科</tspan><tspan x="269.5" dy="13.3">学试验中的广泛应用，增强学习地理的兴趣和</tspan><tspan x="269.5" dy="13.3">信心。</tspan></text></g>
<g id="l5-23"><rect class="b" x="402" y="3014" width="216" height="90"/><text class="t" x="407.5" y="3029.5"><tspan x="407.5" dy="0">3、应通过读图、学生练习和课堂讨论等方式</tspan><tspan x="407.5" dy="13.3">培养学生应用地理知识解决简单问题的能力。</tspan><tspan x="407.5" dy="13.3">在讨论中，教师要做必要的讲解。做练习时，</tspan><tspan x="407.5" dy="13.3">要求学生弄清地理事实，独立思考，自己提出</tspan><tspan x="407.5" dy="13.3">解决问题的办法。并能对所得结果进行分析、</tspan><tspan x="407.5" dy="13.3">判断。</tspan></text></g>
<g id="l5-24"><rect class="b" x="402" y="3125" width="216" height="64"/><text class="t" x="407.5" y="3140.5"><tspan x="407.5" dy="0">4、小测是教学中不可缺少的环节，是检查教</tspan><tspan x="407.5" dy="13.3">学质量的重要手段，能激发学生的主动性、创</tspan><tspan x="407.5" dy="13.3">造性。在重视考试的同时也要形成对学生多方</tspan><tspan x="407.5" dy="13.3">面的评价而不是仅停留在成绩上。</tspan></text></g>
<g id="l5-24a"><rect class="b" x="167" y="3131" width="216" height="51"/><text class="t" x="172.5" y="3146.5"><tspan x="172.5" dy="0">总之，在今后教学中仍然要不断改进工作方法</tspan><tspan x="172.5" dy="13.3">，更好的完成地理教学工作。总结经验，查找</tspan><tspan x="172.5" dy="13.3">不足，争取在新的一年，取得更好的成绩。</tspan></text></g>
<g id="watermarks">
<text class="wm" transform="translate(650 512) rotate(-33)" text-anchor="middle">树图 shutu.cn</text>
<text class="wm" transform="translate(1935 512) rotate(-33)" text-anchor="middle">树图 shutu.cn</text>
<text class="wm" transform="translate(650 1530) rotate(-33)" text-anchor="middle">树图 shutu.cn</text>
<text class="wm" transform="translate(1915 1540) rotate(-33)" text-anchor="middle">树图 shutu.cn</text>
<text class="wm" transform="translate(650 2545) rotate(-33)" text-anchor="middle">树图 shutu.cn</text>
<text class="wm" transform="translate(1925 2533) rotate(-33)" text-anchor="middle">树图 shutu.cn</text>
<text class="wm" transform="translate(660 3505) rotate(-33)" text-anchor="middle">树图 shutu.cn</text>
<text class="wm" transform="translate(1935 3495) rotate(-33)" text-anchor="middle">树图 shutu.cn</text>
</g>
</svg>
